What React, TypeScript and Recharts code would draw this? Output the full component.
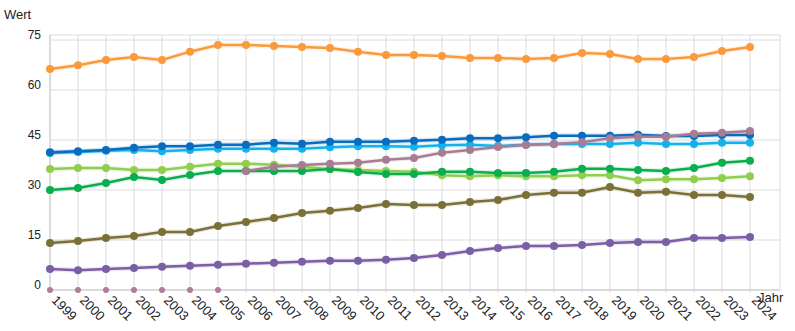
import { LineChart, Line, XAxis, YAxis, CartesianGrid } from 'recharts';

/* Jahreswerte 1999–2024, acht Reihen + Nullpunkte (1999–2005) */
const years = [
  1999, 2000, 2001, 2002, 2003, 2004, 2005, 2006, 2007, 2008, 2009, 2010, 2011, 2012, 2013, 2014, 2015, 2016,
  2017, 2018, 2019, 2020, 2021, 2022, 2023, 2024,
];
const yTicks = [0, 15, 30, 45, 60, 75];

const orange = [
  66.3, 67.4, 69, 69.9, 69, 71.5, 73.5, 73.5, 73.2, 72.9, 72.6, 71.5, 70.5, 70.5, 70.2, 69.6, 69.6, 69.3, 69.6,
  71.1, 70.8, 69.3, 69.3, 69.9, 71.7, 72.9,
];
const darkBlue = [
  41.3, 41.6, 42, 42.7, 43.1, 43.1, 43.6, 43.6, 44.2, 43.9, 44.5, 44.5, 44.5, 44.8, 45.1, 45.5, 45.5, 45.8, 46.3,
  46.3, 46.3, 46.6, 46.2, 46.2, 46.5, 46.5,
];
const lightBlue = [
  41.1, 41.4, 41.8, 42, 41.6, 42, 42.4, 42.4, 42.4, 42.4, 42.8, 43.1, 43.1, 43, 43.4, 43.6, 43.2, 43.6, 43.8,
  43.8, 43.8, 44.2, 43.8, 43.8, 44.2, 44.2,
];
const mauve: (number | null)[] = [
  null, null, null, null, null, null, null, 35.7, 37, 37.5, 37.9, 38.2, 39.1, 39.6, 41.2, 42, 42.9, 43.5, 43.8,
  44.3, 45.5, 46, 46, 46.9, 47.2, 47.7,
];
const zeros: (number | null)[] = [
  0, 0, 0, 0, 0, 0, 0, null, null, null, null, null, null, null, null, null, null, null, null, null, null, null,
  null, null, null, null,
];
const lightGreen = [
  36.3, 36.6, 36.6, 36, 36, 37, 37.9, 37.9, 37.6, 37, 36.2, 36, 35.7, 35.5, 34.4, 34.1, 34.4, 34.1, 34.1, 34.4,
  34.4, 32.9, 33.2, 33.2, 33.6, 34.1,
];
const green = [
  30, 30.6, 32.1, 33.9, 33, 34.5, 35.7, 35.7, 35.7, 35.7, 36.3, 35.4, 34.8, 34.8, 35.5, 35.5, 35.1, 35.1, 35.5,
  36.4, 36.4, 36, 35.7, 36.6, 38.2, 38.8,
];
const olive = [
  14.1, 14.7, 15.6, 16.2, 17.4, 17.4, 19.2, 20.4, 21.6, 23.1, 23.8, 24.6, 25.8, 25.5, 25.5, 26.4, 27, 28.5, 29.2,
  29.2, 30.9, 29.2, 29.5, 28.5, 28.5, 27.9,
];
const purple = [
  6.3, 5.9, 6.3, 6.6, 7, 7.3, 7.6, 7.9, 8.2, 8.5, 8.8, 8.8, 9.1, 9.6, 10.5, 11.7, 12.6, 13.2, 13.2, 13.5, 14.1,
  14.4, 14.4, 15.6, 15.6, 15.9,
];

const SERIES: { key: string; color: string }[] = [
  { key: 'orange', color: '#fb9a3c' },
  { key: 'lightGreen', color: '#8fce4f' },
  { key: 'green', color: '#0aae4e' },
  { key: 'olive', color: '#7b7037' },
  { key: 'purple', color: '#7c5ea6' },
  { key: 'lightBlue', color: '#14b2ec' },
  { key: 'darkBlue', color: '#0a6cbe' },
  { key: 'mauve', color: '#a87d94' },
];

const rows = years.map((y, i) => ({
  year: y,
  orange: orange[i],
  darkBlue: darkBlue[i],
  lightBlue: lightBlue[i],
  mauve: mauve[i],
  zeros: zeros[i],
  lightGreen: lightGreen[i],
  green: green[i],
  olive: olive[i],
  purple: purple[i],
}));

const FONT = '"Liberation Sans", Arial, sans-serif';
const TXT = '#222';

const YTick = (p: { x: number; y: number; payload: { value: number } }) => (
  <text x={p.x - 1} y={p.y - 1} textAnchor="end" fontSize={12} fill={TXT} fontFamily={FONT}>
    {p.payload.value}
  </text>
);

const XTick = (p: { x: number; y: number; payload: { value: number } }) => (
  <text
    transform={`translate(${p.x + 1},${p.y + 6}) rotate(45)`}
    textAnchor="start"
    fontSize={13}
    fill={TXT}
    fontFamily={FONT}
  >
    {p.payload.value}
  </text>
);

export default function App() {
  return (
    <div style={{ position: 'absolute', left: 0, top: 0, width: 795, height: 331, background: '#fff', fontFamily: FONT }}>
      <LineChart width={795} height={331} data={rows} margin={{ top: 35, right: 15, left: 0, bottom: 0 }}>
        <CartesianGrid stroke="#dcdcdc" />
        <XAxis
          dataKey="year"
          type="number"
          domain={[1999, 2024]}
          ticks={years}
          interval={0}
          padding={{ left: 0, right: 30 }}
          height={41}
          axisLine={{ stroke: '#c8c8c8' }}
          tickLine={{ stroke: '#dcdcdc' }}
          tickSize={3}
          tick={XTick}
        />
        <YAxis
          domain={[0, 76.5]}
          ticks={yTicks}
          width={50}
          axisLine={{ stroke: '#c8c8c8' }}
          tickLine={false}
          tick={YTick}
        />
        {SERIES.map((s) => (
          <Line
            key={s.key + '-halo'}
            dataKey={s.key}
            stroke={s.color}
            strokeOpacity={0.15}
            strokeWidth={5}
            dot={false}
            activeDot={false}
            isAnimationActive={false}
          />
        ))}
        {SERIES.map((s) => (
          <Line
            key={s.key}
            dataKey={s.key}
            stroke={s.color}
            strokeWidth={2.5}
            dot={{ r: 4, fill: s.color, stroke: 'none' }}
            activeDot={false}
            isAnimationActive={false}
          />
        ))}
        <Line
          dataKey="zeros"
          stroke="transparent"
          strokeWidth={0}
          dot={{ r: 3, fill: '#b07d96', stroke: 'none', clipDot: false }}
          activeDot={false}
          isAnimationActive={false}
        />
      </LineChart>
      <span style={{ position: 'absolute', left: 4, top: 7, fontSize: 13, color: TXT }}>Wert</span>
      <span style={{ position: 'absolute', left: 758, top: 290, fontSize: 13, color: TXT }}>Jahr</span>
    </div>
  );
}
